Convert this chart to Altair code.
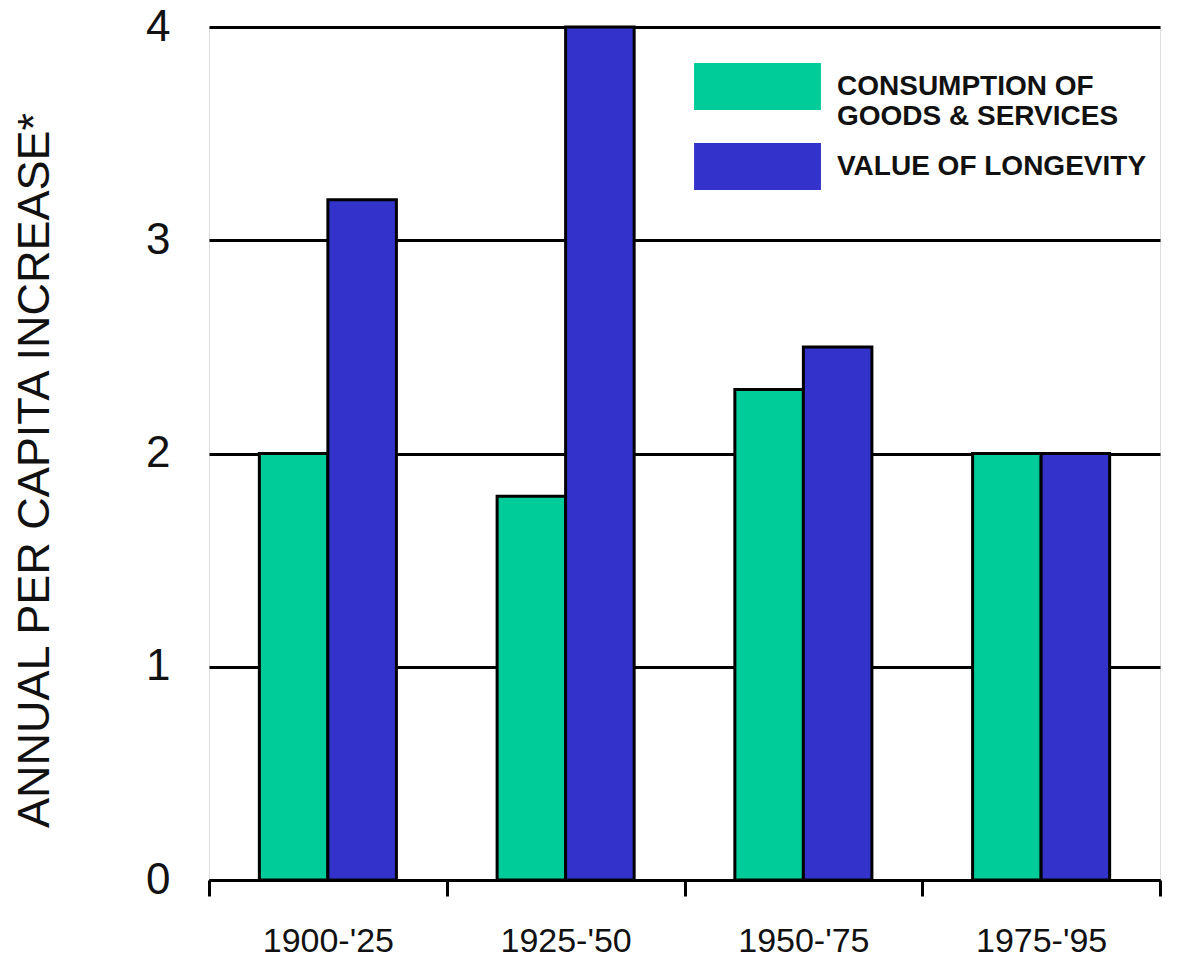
import altair as alt
import pandas as pd

periods = ["1900-'25", "1925-'50", "1950-'75", "1975-'95"]
series = ["CONSUMPTION OF GOODS & SERVICES", "VALUE OF LONGEVITY"]
consumption = [2.0, 1.8, 2.3, 2.0]
longevity = [3.19, 4.0, 2.5, 2.0]
colors = ["#00CC99", "#3333CC"]

rows = []
for p, c, l in zip(periods, consumption, longevity):
    rows.append({"period": p, "series": series[0], "value": c})
    rows.append({"period": p, "series": series[1], "value": l})
df = pd.DataFrame(rows)

label_expr = ("datum.label == 'CONSUMPTION OF GOODS & SERVICES' ? "
              "['CONSUMPTION OF', 'GOODS & SERVICES'] : datum.label")

chart = alt.Chart(df).mark_bar(stroke="black", strokeWidth=3).encode(
    x=alt.X("period:N", sort=periods, title=None,
            scale=alt.Scale(paddingInner=0, paddingOuter=0),
            axis=alt.Axis(labelAngle=0, tickBand="extent", domainColor="black",
                          domainWidth=3, tickColor="black", tickWidth=3, tickSize=16,
                          labelPadding=28, labelFont="Liberation Sans",
                          labelFontSize=34, labelColor="#111111", grid=False)),
    xOffset=alt.XOffset("series:N", sort=series,
                        scale=alt.Scale(paddingInner=0, paddingOuter=0.735)),
    y=alt.Y("value:Q", scale=alt.Scale(domain=[0, 4], nice=False),
            title="ANNUAL PER CAPITA INCREASE*",
            axis=alt.Axis(values=[0, 1, 2, 3, 4], domain=False, ticks=False,
                          grid=True, gridColor="black", gridWidth=3,
                          labelPadding=39, labelFont="Liberation Sans",
                          labelFontSize=44, labelColor="#111111",
                          titleFont="Liberation Sans", titleFontSize=45,
                          titleFontWeight="normal", titleColor="#111111",
                          titleX=-175, titleY=443, titleAlign="center",
                          titleBaseline="middle", titleAngle=270)),
    color=alt.Color("series:N", sort=series,
                    scale=alt.Scale(domain=series, range=colors),
                    legend=alt.Legend(title=None, orient="none", legendX=525, legendY=36,
                                      symbolType="M-2.7,-1L2.7,-1L2.7,1L-2.7,1Z",
                                      symbolSize=2209, symbolStrokeWidth=0,
                                      symbolOpacity=1,
                                      labelExpr=label_expr,
                                      labelFont="Liberation Sans", labelFontWeight="bold",
                                      labelFontSize=28, labelColor="#111111",
                                      labelOffset=56, rowPadding=12, labelLimit=400)),
).properties(
    width=951, height=853,
    autosize=alt.AutoSizeParams(type="none"),
    padding={"left": 201, "top": 19, "right": 16, "bottom": 86},
).configure_view(stroke=None).configure(background="white")

chart.save("out.html", embed_options={"renderer": "svg", "actions": False})
